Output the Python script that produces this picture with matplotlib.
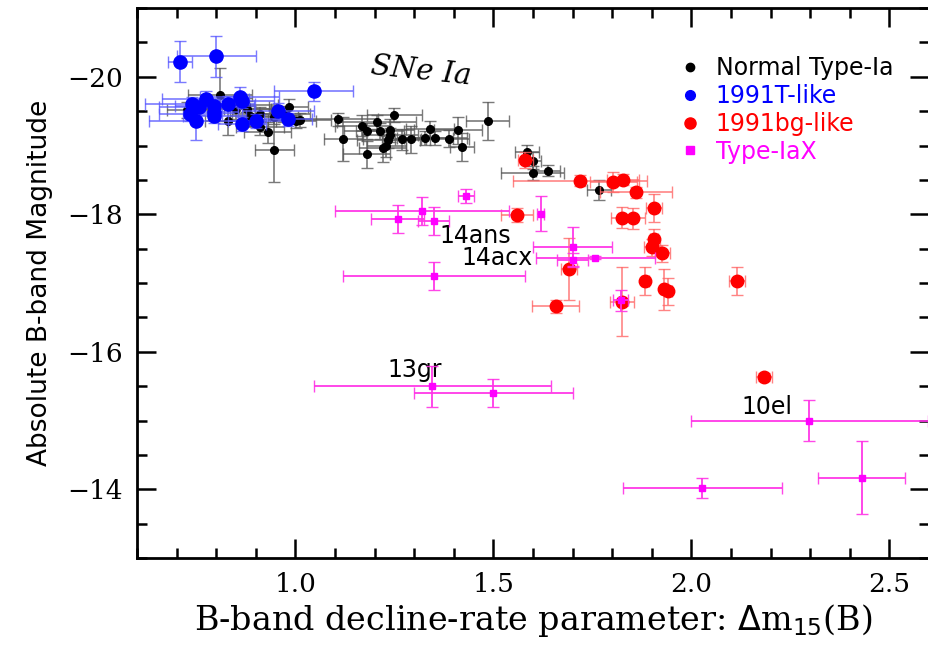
import matplotlib
matplotlib.use("Agg")
from matplotlib import pyplot as plt
from matplotlib.lines import Line2D
from matplotlib.ticker import MultipleLocator

# Normal Type-Ia
norm_x = [0.726, 0.81, 0.831, 0.851, 0.876, 0.879, 0.886, 0.91, 0.91, 0.93, 0.947, 0.947, 0.968, 0.983,
          1.002, 1.011, 1.108, 1.121, 1.169, 1.182, 1.205, 1.214, 1.22, 1.23, 1.235, 1.239, 1.239, 1.25,
          1.18, 1.268, 1.291, 1.327, 1.34, 1.353, 1.389, 1.411, 1.421, 1.486, 1.584, 1.60, 1.599, 1.638, 1.766]
norm_y = [-19.52, -19.74, -19.36, -19.53, -19.59, -19.53, -19.43, -19.46, -19.27, -19.19, -18.93, -19.41, -19.46, -19.56,
          -19.35, -19.37, -19.38, -19.09, -19.29, -19.21, -19.34, -19.21, -18.96, -18.99, -19.08, -19.15, -19.23, -19.44,
          -18.87, -19.09, -19.09, -19.11, -19.24, -19.11, -19.10, -19.22, -18.98, -19.36, -18.91, -18.78, -18.60, -18.63, -18.35]
norm_xe = [0.05, 0.08, 0.06, 0.1, 0.08, 0.06, 0.05, 0.07, 0.06, 0.06, 0.05, 0.06, 0.07, 0.05,
           0.05, 0.08, 0.1, 0.05, 0.07, 0.06, 0.1, 0.06, 0.06, 0.05, 0.08, 0.07, 0.06, 0.07,
           0.06, 0.05, 0.04, 0.07, 0.06, 0.08, 0.05, 0.06, 0.03, 0.054, 0.03, 0.02, 0.08, 0.03, 0.03]
norm_ye = [0.12, 0.39, 0.2, 0.15, 0.1, 0.12, 0.15, 0.1, 0.12, 0.15, 0.46, 0.1, 0.12, 0.12,
           0.1, 0.1, 0.1, 0.32, 0.15, 0.12, 0.1, 0.12, 0.2, 0.15, 0.12, 0.1, 0.15, 0.1,
           0.2, 0.15, 0.2, 0.1, 0.12, 0.1, 0.12, 0.2, 0.2, 0.28, 0.1, 0.12, 0.1, 0.08, 0.15]

# 1991T-like
t91_x = [0.709, 0.80, 1.046, 0.773, 0.739, 0.756, 0.735, 0.75, 0.795, 0.795, 0.795, 0.829,
         0.859, 0.865, 0.865, 0.901, 0.956, 0.981]
t91_y = [-20.22, -20.30, -19.79, -19.68, -19.61, -19.56, -19.46, -19.35, -19.57, -19.49, -19.43, -19.60,
         -19.71, -19.65, -19.31, -19.36, -19.50, -19.38]
t91_xe = [0.03, 0.1, 0.1, 0.11, 0.12, 0.1, 0.08, 0.12, 0.1, 0.06, 0.08, 0.07,
          0.1, 0.08, 0.06, 0.07, 0.09, 0.06]
t91_ye = [0.3, 0.3, 0.14, 0.12, 0.1, 0.12, 0.1, 0.27, 0.1, 0.12, 0.1, 0.12,
          0.14, 0.1, 0.1, 0.1, 0.12, 0.1]

# 1991bg-like
bg_x = [1.581, 1.719, 1.803, 1.827, 1.86, 1.906, 1.826, 1.852, 1.559, 1.906, 1.90, 1.927,
        1.691, 1.884, 1.932, 1.94, 1.657, 1.824, 2.116, 2.184]
bg_y = [-18.79, -18.49, -18.47, -18.50, -18.32, -18.09, -17.95, -17.94, -17.99, -17.64, -17.52, -17.43,
        -17.20, -17.03, -16.91, -16.88, -16.66, -16.73, -17.03, -15.63]
bg_xe = [0.02, 0.17, 0.06, 0.04, 0.09, 0.02, 0.03, 0.03, 0.04, 0.01, 0.02, 0.02,
         0.02, 0.01, 0.01, 0.01, 0.06, 0.03, 0.02, 0.02]
bg_ye = [0.12, 0.08, 0.15, 0.08, 0.08, 0.2, 0.15, 0.15, 0.1, 0.15, 0.12, 0.12,
         0.45, 0.2, 0.3, 0.2, 0.1, 0.5, 0.2, 0.06]

# Type-IaX
iax_x = [1.43, 1.32, 1.258, 1.349, 1.619, 1.70, 1.70, 1.757, 1.349, 1.821, 1.346, 1.50, 2.298, 2.028, 2.43]
iax_y = [-18.27, -18.05, -17.93, -17.90, -18.01, -17.53, -17.34, -17.37, -17.10, -16.75, -15.50, -15.40, -15.0, -14.02, -14.17]
iax_xe = [0.02, 0.22, 0.068, 0.04, 0.01, 0.1, 0.04, 0.15, 0.23, 0.02, 0.3, 0.2, 0.3, 0.2, 0.11]
iax_ye = [0.1, 0.2, 0.2, 0.2, 0.25, 0.28, 0.1, 0.02, 0.2, 0.15, 0.3, 0.2, 0.3, 0.14, 0.53]

# object labels
lab_txt = ["14ans", "14acx", "13gr", "10el"]
lab_x = [1.455, 1.51, 1.30, 2.19]
lab_y = [-17.69, -17.36, -15.73, -15.2]

fig = plt.figure(figsize=(9.29, 6.58), dpi=100)
ax = fig.add_axes([137/929, 1-558/658, 792/929, 550/658])

ax.errorbar(norm_x, norm_y, xerr=norm_xe, yerr=norm_ye, fmt='o', color='black', ms=5.5,
            ecolor=(0.35, 0.35, 0.35, 0.8), elinewidth=1.2, capsize=4, zorder=3)
ax.errorbar(t91_x, t91_y, xerr=t91_xe, yerr=t91_ye, fmt='o', color='blue', ms=9.5,
            ecolor=(0.35, 0.35, 1.0, 0.8), elinewidth=1.2, capsize=4, zorder=4)
ax.errorbar(bg_x, bg_y, xerr=bg_xe, yerr=bg_ye, fmt='o', color='red', ms=9,
            ecolor=(1.0, 0.4, 0.4, 0.8), elinewidth=1.2, capsize=4, zorder=4)
ax.errorbar(iax_x, iax_y, xerr=iax_xe, yerr=iax_ye, fmt='s', color='magenta', ms=5,
            ecolor=(1.0, 0.2, 0.9, 0.9), elinewidth=1.4, capsize=4, zorder=5)

for t, x, y in zip(lab_txt, lab_x, lab_y):
    ax.text(x, y, t, fontsize=17, ha='center', va='center', family='DejaVu Sans')

ax.text(0.293, 0.885, "SNe Ia", transform=ax.transAxes, fontsize=21, style='italic',
        family='DejaVu Serif', rotation=-6, ha='left', va='center')

handles = [Line2D([], [], ls='none', marker='o', color='black', ms=6),
           Line2D([], [], ls='none', marker='o', color='blue', ms=7),
           Line2D([], [], ls='none', marker='o', color='red', ms=8),
           Line2D([], [], ls='none', marker='s', color='magenta', ms=6)]
ax.legend(handles, ["Normal Type-Ia", "1991T-like", "1991bg-like", "Type-IaX"],
          loc='upper right', bbox_to_anchor=(0.955, 0.912), frameon=False, fontsize=17,
          labelcolor='markerfacecolor', handletextpad=0.6, handlelength=1.0,
          labelspacing=0.16, borderaxespad=0.0, borderpad=0.0)

ax.set_xlim(0.6, 2.6)
ax.set_ylim(-13, -21)
ax.xaxis.set_major_locator(MultipleLocator(0.5))
ax.xaxis.set_minor_locator(MultipleLocator(0.1))
ax.yaxis.set_major_locator(MultipleLocator(2))
ax.yaxis.set_minor_locator(MultipleLocator(0.5))
ax.xaxis.set_major_formatter(matplotlib.ticker.FormatStrFormatter('%.1f'))
ax.yaxis.set_major_formatter(matplotlib.ticker.FuncFormatter(lambda v, p: '\u2212%d' % abs(v)))
ax.tick_params(which='both', direction='in', top=True, right=True, width=1.8)
ax.tick_params(which='major', length=14, labelsize=19, pad=10)
ax.tick_params(which='minor', length=7)
for lbl in ax.get_xticklabels() + ax.get_yticklabels():
    lbl.set_family('DejaVu Serif')
for s in ax.spines.values():
    s.set_linewidth(2)

ax.set_xlabel(r"B-band decline-rate parameter: $\Delta$m$_{15}$(B)", fontsize=24,
              family='DejaVu Serif', labelpad=4)
ax.set_ylabel("Absolute B-band Magnitude", fontsize=19, family='DejaVu Sans', labelpad=10)

fig.savefig("out.png", dpi=100)
